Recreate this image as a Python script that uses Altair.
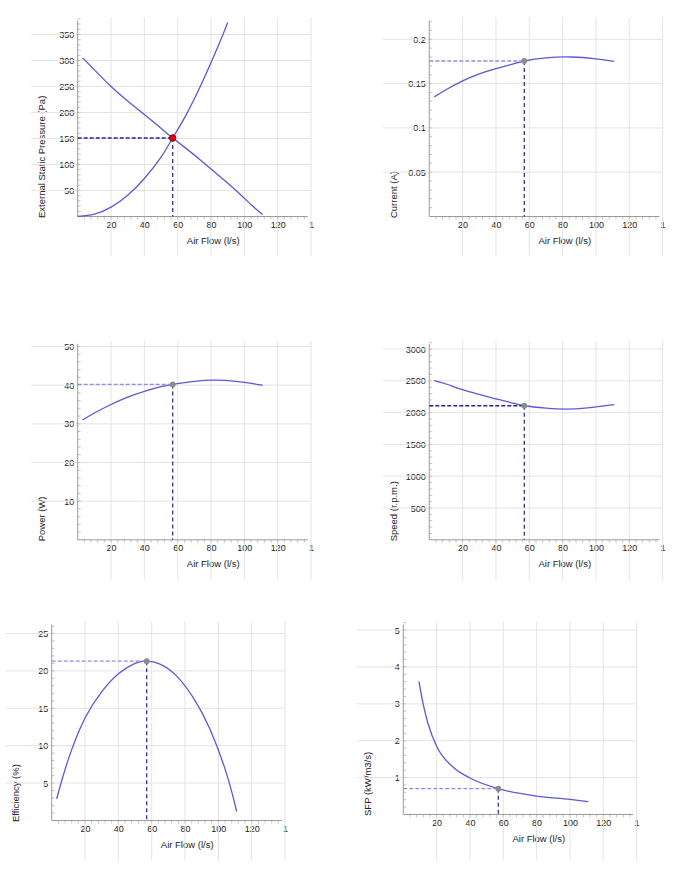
import altair as alt
import pandas as pd

FONT = "Liberation Sans"

# ---------------- data ----------------
air_ticks = [20, 40, 60, 80, 100, 120, 140]
op_flow = 57

# External static pressure (Pa)
fan_flow = [3, 10, 20, 30, 40, 50, 57, 65, 75, 85, 95, 105, 111]
fan_pressure = [305, 282, 250, 222, 196, 169.5, 151, 131, 105, 78, 50, 20, 4]
sys_flow = [0, 10, 20, 30, 40, 50, 57, 65, 75, 85, 90]
sys_pressure = [0, 4.5, 18, 41, 73, 114, 151, 195, 260, 333, 373]
op_pressure = 151
pressure_ticks = [50, 100, 150, 200, 250, 300, 350]

# Current (A)
cur_flow = [3, 10, 20, 30, 40, 50, 57, 70, 85, 100, 111]
cur_val = [0.135, 0.143, 0.153, 0.161, 0.167, 0.172, 0.1755, 0.179, 0.180, 0.178, 0.175]
op_current = 0.1755
current_ticks = [0.05, 0.1, 0.15, 0.2]

# Power (W)
pow_flow = [3, 10, 20, 30, 40, 50, 57, 70, 82, 95, 111]
pow_val = [31, 32.8, 35, 36.9, 38.4, 39.6, 40.2, 41, 41.3, 41, 40]
op_power = 40.2
power_ticks = [10, 20, 30, 40, 50]

# Speed (r.p.m.)
spd_flow = [3, 10, 20, 30, 40, 50, 57, 70, 82, 95, 111]
spd_val = [2505, 2450, 2360, 2285, 2215, 2150, 2108, 2070, 2055, 2075, 2125]
op_speed = 2108
speed_ticks = [500, 1000, 1500, 2000, 2500, 3000]

# Efficiency (%)
eff_flow = [3, 10, 20, 30, 40, 50, 57, 65, 75, 85, 95, 105, 111]
eff_val = [2.9, 8.2, 13.7, 17.2, 19.6, 21.0, 21.3, 20.9, 19.3, 16.4, 12.2, 6.2, 1.2]
op_eff = 21.3
eff_ticks = [5, 10, 15, 20, 25]

# SFP (kW/m3/s)
sfp_flow = [9.4, 12, 15, 20, 30, 40, 57, 80, 100, 111]
sfp_val = [3.61, 2.98, 2.44, 1.85, 1.28, 0.99, 0.70, 0.50, 0.41, 0.35]
op_sfp = 0.70
sfp_ticks = [1, 2, 3, 4, 5]

# ---------------- styling / layout ----------------
PXU = 5.0 / 3.0          # pixels per l/s
CELL_W = 270
BLUE = "#5a5ad4"
NAVY = "#24248f"
LIGHT = "#8f8fe0"
GRID = "#e4e4e4"
AXIS = "#9a9a9a"
MINOR = "#c4c4c4"
TXT = "#222222"


def panel(series, op_y, y_title, y_ticks, y_max, gx, gt, hv, row_h,
          hcol, pfill, pstroke, interp="natural"):
    H = gt + hv
    sx = alt.Scale(domain=[-gx / PXU, (CELL_W - gx) / PXU], nice=False, zero=False)
    sy = alt.Scale(domain=[0, y_max * H / hv], nice=False, zero=False)
    ax_x = alt.Axis(values=air_ticks, labelExpr="datum.value == 140 ? '1' : datum.label",
                    domain=False, ticks=False, grid=False, labelPadding=4,
                    labelFontSize=9, labelColor=TXT, labelFont=FONT, labelFlush=False,
                    labelOverlap=False, title="Air Flow (l/s)", titleX=gx + 135, titleY=24,
                    titleBaseline="middle", titleAlign="center", titleFontSize=9.5,
                    titleFontWeight="normal", titleColor=TXT, titleFont=FONT)
    ax_y = alt.Axis(values=y_ticks, labelExpr="'' + datum.value", domain=False, ticks=False,
                    grid=False, offset=-gx, labelPadding=4, labelFontSize=9, labelColor=TXT,
                    labelFont=FONT, labelFlush=False, labelOverlap=False, title=y_title,
                    titleAngle=270, titleAlign="left", titleBaseline="middle", titleX=-36,
                    titleY=H + 1, titleFontSize=9.5, titleFontWeight="normal",
                    titleColor=TXT, titleFont=FONT)

    def X(f="x"):
        return alt.X(f + ":Q", scale=sx, axis=ax_x)

    def Y(f="y"):
        return alt.Y(f + ":Q", scale=sy, axis=ax_y)

    step_y = y_ticks[0] / 5.0
    y_minor = [step_y * i for i in range(1, int(round(y_max / step_y)) + 1)]
    x_minor = [4 * i for i in range(1, 35)]

    hgrid = alt.Chart(pd.DataFrame({"y": y_ticks})).mark_rule(color=GRID, strokeWidth=1).encode(
        y=Y(), x=alt.value(gx - 46.5), x2=alt.value(gx + 140 * PXU))
    vgrid = alt.Chart(pd.DataFrame({"x": air_ticks})).mark_rule(color=GRID, strokeWidth=1).encode(
        x=X(), y=alt.value(gt - 3), y2=alt.value(row_h + 40))
    xminor = alt.Chart(pd.DataFrame({"x": x_minor})).mark_rule(color=MINOR, strokeWidth=1).encode(
        x=X(), y=alt.value(H), y2=alt.value(H + 3))
    yminor = alt.Chart(pd.DataFrame({"y": y_minor})).mark_rule(color=MINOR, strokeWidth=1).encode(
        y=Y(), x=alt.value(gx), x2=alt.value(gx + 3))
    yline = alt.Chart(pd.DataFrame({"y": [0]})).mark_rule(color=AXIS, strokeWidth=1).encode(
        x=alt.value(gx), y=alt.value(gt), y2=alt.value(H))
    xline = alt.Chart(pd.DataFrame({"x": [0]})).mark_rule(color=AXIS, strokeWidth=1).encode(
        y=alt.value(H), x=alt.value(gx), x2=alt.value(gx + 230))

    rows = []
    for name, xs, ys in series:
        for a, b in zip(xs, ys):
            rows.append({"s": name, "x": a, "y": b})
    curves = alt.Chart(pd.DataFrame(rows)).mark_line(
        color=BLUE, strokeWidth=1.3, interpolate=interp).encode(
        x=X(), y=Y(), detail="s:N")

    hdash = alt.Chart(pd.DataFrame({"x": [0], "x2": [op_flow], "y": [op_y]})).mark_rule(
        color=hcol, strokeWidth=1.4, strokeDash=[4, 2]).encode(x=X(), x2="x2:Q", y=Y())
    vdash = alt.Chart(pd.DataFrame({"x": [op_flow], "y": [op_y], "y2": [0]})).mark_rule(
        color=NAVY, strokeWidth=1.2, strokeDash=[4, 3]).encode(x=X(), y=Y(), y2="y2:Q")
    pt = alt.Chart(pd.DataFrame({"x": [op_flow], "y": [op_y]})).mark_point(
        filled=True, size=42 if pstroke else 34, opacity=1, fill=pfill,
        stroke=pstroke if pstroke else pfill, strokeWidth=1 if pstroke else 0).encode(x=X(), y=Y())

    return alt.layer(hgrid, vgrid, xminor, yminor, yline, xline, curves, hdash, vdash, pt).properties(
        width=CELL_W, height=H)


GT2 = 43.3
p1 = panel([("fan", fan_flow, fan_pressure), ("system", sys_flow, sys_pressure)], op_pressure,
           "External Static Pressure (Pa)", pressure_ticks, 376.9, 26, 0, 196, 196,
           NAVY, "#e8001c", "#8a0000")
p2 = panel([("current", cur_flow, cur_val)], op_current, "Current (A)", current_ticks, 0.2212,
           26, 0, 196, 196, LIGHT, "#8c8c8c", None)
p3 = panel([("power", pow_flow, pow_val)], op_power, "Power (W)", power_ticks, 50.7,
           26, GT2, 196, 196 + GT2, LIGHT, "#8c8c8c", None)
p4 = panel([("speed", spd_flow, spd_val)], op_speed, "Speed (r.p.m.)", speed_ticks, 3082,
           26, GT2, 196, 196 + GT2, NAVY, "#8c8c8c", None)
p5 = panel([("eff", eff_flow, eff_val)], op_eff, "Efficiency (%)", eff_ticks, 26.2,
           0, 0, 196, 196, LIGHT, "#8c8c8c", None)
p6 = panel([("sfp", sfp_flow, sfp_val)], op_sfp, "SFP (kW/m3/s)", sfp_ticks, 5.15,
           0, 0, 190, 196, LIGHT, "#8c8c8c", None, interp="monotone")

chart = alt.concat(p1, p2, p3, p4, p5, p6, columns=2,
                   spacing={"row": 84, "column": 403.3 - 51.7 - CELL_W},
                   bounds="flush", align="each").properties(
    padding={"left": 4.7, "top": 16.5, "right": 5, "bottom": 5},
    background="white",
).configure(font=FONT).configure_view(strokeWidth=0, stroke="transparent")

chart.save("out.html", embed_options={"renderer": "svg", "actions": False})
